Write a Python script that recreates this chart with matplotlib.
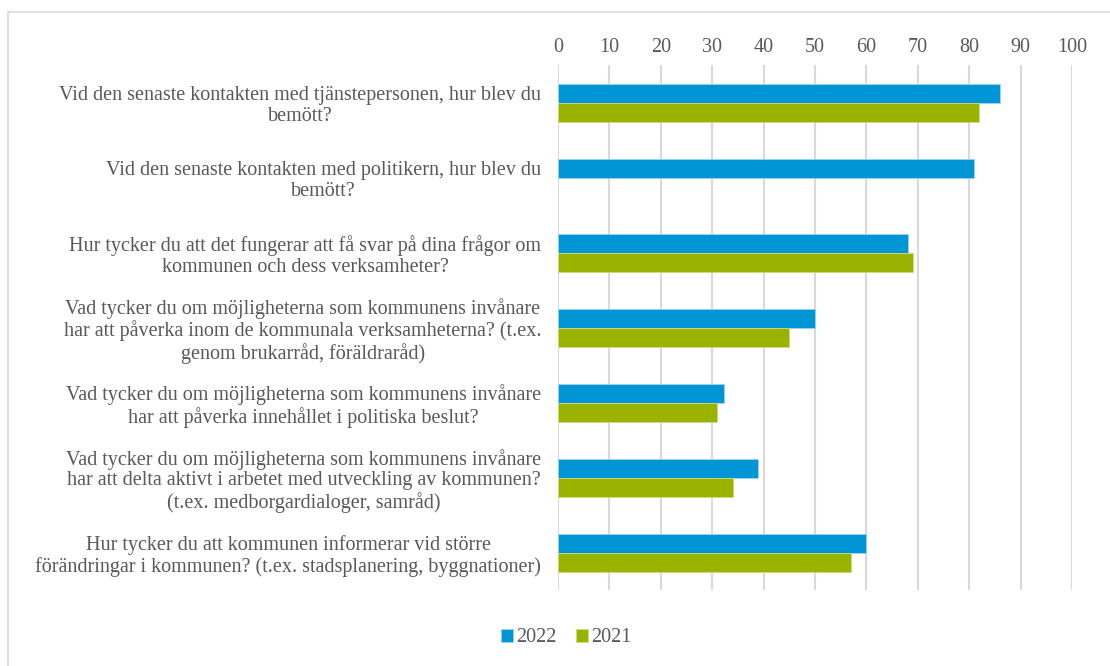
import matplotlib.pyplot as plt
from matplotlib.patches import Rectangle
import numpy as np

# Frågor (kategorier), uppifrån och ned
questions = [
    "Vid den senaste kontakten med tjänstepersonen, hur blev du\nbemött?",
    "Vid den senaste kontakten med politikern, hur blev du\nbemött?",
    "Hur tycker du att det fungerar att få svar på dina frågor om\nkommunen och dess verksamheter?",
    "Vad tycker du om möjligheterna som kommunens invånare\nhar att påverka inom de kommunala verksamheterna? (t.ex.\ngenom brukarråd, föräldraråd)",
    "Vad tycker du om möjligheterna som kommunens invånare\nhar att påverka innehållet i politiska beslut?",
    "Vad tycker du om möjligheterna som kommunens invånare\nhar att delta aktivt i arbetet med utveckling av kommunen?\n(t.ex. medborgardialoger, samråd)",
    "Hur tycker du att kommunen informerar vid större\nförändringar i kommunen? (t.ex. stadsplanering, byggnationer)",
]
values_2022 = [86, 81, 68, 50, 32.3, 39, 60]
values_2021 = [82, np.nan, 69, 45, 31, 34, 57]
xticks = list(range(0, 101, 10))

blue = "#0096D6"
green = "#99B300"
text_color = "#595959"

plt.rcParams["font.family"] = ["Liberation Serif", "DejaVu Serif"]

fig = plt.figure(figsize=(11.1, 6.66), dpi=100)
ax = fig.add_axes([558 / 1110, 1 - 590 / 666, (1072 - 558) / 1110, (590 - 65) / 666])

y = np.arange(len(questions))
h = 19 / 75
ax.barh(y - h / 2, values_2022, height=h, color=blue, edgecolor="#9fd3ee", linewidth=0.6, label="2022", zorder=3)
ax.barh(y + h / 2, values_2021, height=h, color=green, edgecolor="#cddc80", linewidth=0.6, label="2021", zorder=3)

ax.set_ylim(len(questions) - 0.5, -0.5)
ax.set_xlim(0, 100)
ax.set_xticks(xticks)
ax.xaxis.tick_top()
ax.tick_params(axis="x", length=0, pad=6, labelsize=14.5, labelcolor=text_color)
ax.tick_params(axis="y", length=0, pad=12)
ax.set_yticks(y)
ax.set_yticklabels(questions, fontsize=14.5, color=text_color, multialignment="center", linespacing=1.12)
ax.grid(axis="x", color="#D9D9D9", linewidth=1.5, zorder=0)
for s in ax.spines.values():
    s.set_visible(False)

leg = fig.legend(loc="center", bbox_to_anchor=(0.51, 1 - 638 / 666), ncol=2, frameon=False,
                 fontsize=14.5, handlelength=0.6, handleheight=0.6, handletextpad=0.15, columnspacing=1.0)
for t in leg.get_texts():
    t.set_color(text_color)

# ram runt diagrammet
fig.patches.append(Rectangle((8 / 1110, -0.1), 1.2, 1 - 12 / 666 + 0.1, transform=fig.transFigure,
                             fill=False, edgecolor="#D9D9D9", linewidth=1.2))

fig.savefig("out.png", dpi=100)
